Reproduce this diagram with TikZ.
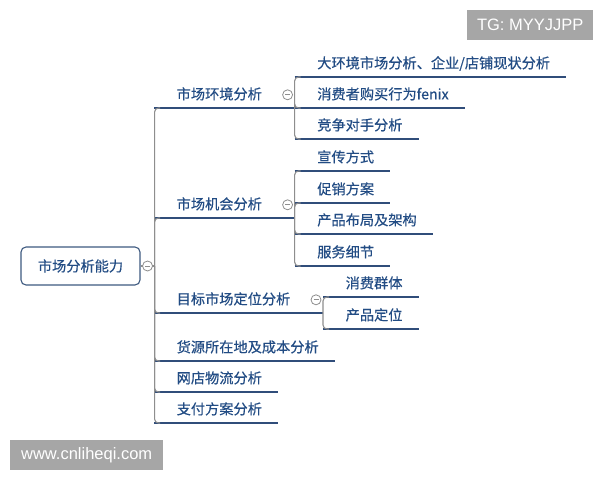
\documentclass[tikz,border=0pt]{standalone}
\usepackage{fontspec}
\setmainfont{Liberation Sans}
\newfontfamily\cjk[FakeBold=0.4,AutoFakeBold=0.4]{Noto Sans CJK SC}
\usetikzlibrary{positioning}

\definecolor{navy}{HTML}{224C84}
\definecolor{ulinecol}{HTML}{304D7A}
\definecolor{linkgray}{HTML}{8E8E8E}
\definecolor{markgray}{HTML}{A6A6A6}
\definecolor{rootline}{HTML}{3E5A80}

\tikzset{
  topic/.style={anchor=south west, inner xsep=0pt, inner ysep=5.5pt,
    text height=12pt, text depth=3pt, text=navy,
    font=\cjk\fontsize{14.2pt}{17pt}\selectfont,
    execute at begin node=\hspace*{22.5pt},
    execute at end node=\hspace*{#1}},
  topic/.default=16pt,
  parent/.style={topic=32.5pt},
  rootbox/.style={draw=rootline, line width=1.1pt, rounded corners=5pt,
    minimum width=119pt, minimum height=38pt, text=navy,
    font=\cjk\fontsize{14.2pt}{17pt}\selectfont},
  uline/.style={draw=ulinecol, line width=1.4pt},
  link/.style={draw=linkgray, line width=1.1pt, rounded corners=4pt},
  fold/.style={circle, draw=linkgray, fill=white, line width=0.8pt,
    minimum size=10pt, inner sep=0pt,
    path picture={\draw[linkgray, line width=0.8pt]
      ([xshift=-2.5pt]path picture bounding box.center) --
      ([xshift=2.5pt]path picture bounding box.center);}},
  wmark/.style={fill=markgray, text=white, inner sep=0pt,
    font=\fontsize{16.5pt}{18pt}\selectfont, anchor=north west}
}

\begin{document}
\begin{tikzpicture}[x=1pt,y=-1pt]
    \useasboundingbox[fill=white] (0,0) rectangle (600,480);

    % root
    \node[rootbox] (root) at (80.5,266) {市场分析能力};
    \coordinate (trunk) at ([xshift=14pt]root.east);

    % first level
    \node[parent] (env) at (154,108) {市场环境分析};
    \node[parent] (opp) at (154,218) {市场机会分析};
    \node[parent] (tgt) at (154,313) {目标市场定位分析};
    \node[topic] (src) at (154,361) {货源所在地及成本分析};
    \node[topic] (lgs) at (154,392) {网店物流分析};
    \node[topic] (pay) at (154,423) {支付方案分析};

    % second level
    \node[topic] (env1) at (env.south east |- 0,77) {大环境市场分析、企业/店铺现状分析};
    \node[topic] (env2) at (env.south east |- 0,108) {消费者购买行为fenix};
    \node[topic] (env3) at (env.south east |- 0,139) {竞争对手分析};

    \node[topic] (opp1) at (opp.south east |- 0,171) {宣传方式};
    \node[topic] (opp2) at (opp.south east |- 0,203) {促销方案};
    \node[topic] (opp3) at (opp.south east |- 0,234) {产品布局及架构};
    \node[topic] (opp4) at (opp.south east |- 0,266) {服务细节};

    \node[topic] (tgt1) at (tgt.south east |- 0,297) {消费群体};
    \node[topic] (tgt2) at (tgt.south east |- 0,329) {产品定位};

    % underlines
    \foreach \n in {env,opp,tgt,src,lgs,pay,env1,env2,env3,opp1,opp2,opp3,opp4,tgt1,tgt2}
        \draw[uline] (\n.south west) -- (\n.south east);

    % connectors
    \draw[link] (root.east) -- (trunk);
    \foreach \t in {env,opp,tgt,src,lgs,pay}
        \draw[link] (trunk) |- ([xshift=6pt]\t.south west);
    \foreach \c in {env1,env2,env3}
        \draw[link] (env.south east) |- ([xshift=6pt]\c.south west);
    \foreach \c in {opp1,opp2,opp3,opp4}
        \draw[link] (opp.south east) |- ([xshift=6pt]\c.south west);
    \foreach \c in {tgt1,tgt2}
        \draw[link] (tgt.south east) |- ([xshift=6pt]\c.south west);

    % fold marks
    \node[fold] (rootfold) at ([xshift=7pt]root.east) {};
    \node[fold] (envfold) at ([xshift=-7pt]env.east) {};
    \node[fold] (oppfold) at ([xshift=-7pt]opp.east) {};
    \node[fold] (tgtfold) at ([xshift=-7pt]tgt.east) {};

    % watermarks
    \node[wmark, minimum width=126pt, minimum height=30pt] (tg) at (467,10) {TG: MYYJJPP};
    \node[wmark, minimum width=153pt, minimum height=30pt] (site) at (10,440) {www.cnliheqi.com};
\end{tikzpicture}
\end{document}
